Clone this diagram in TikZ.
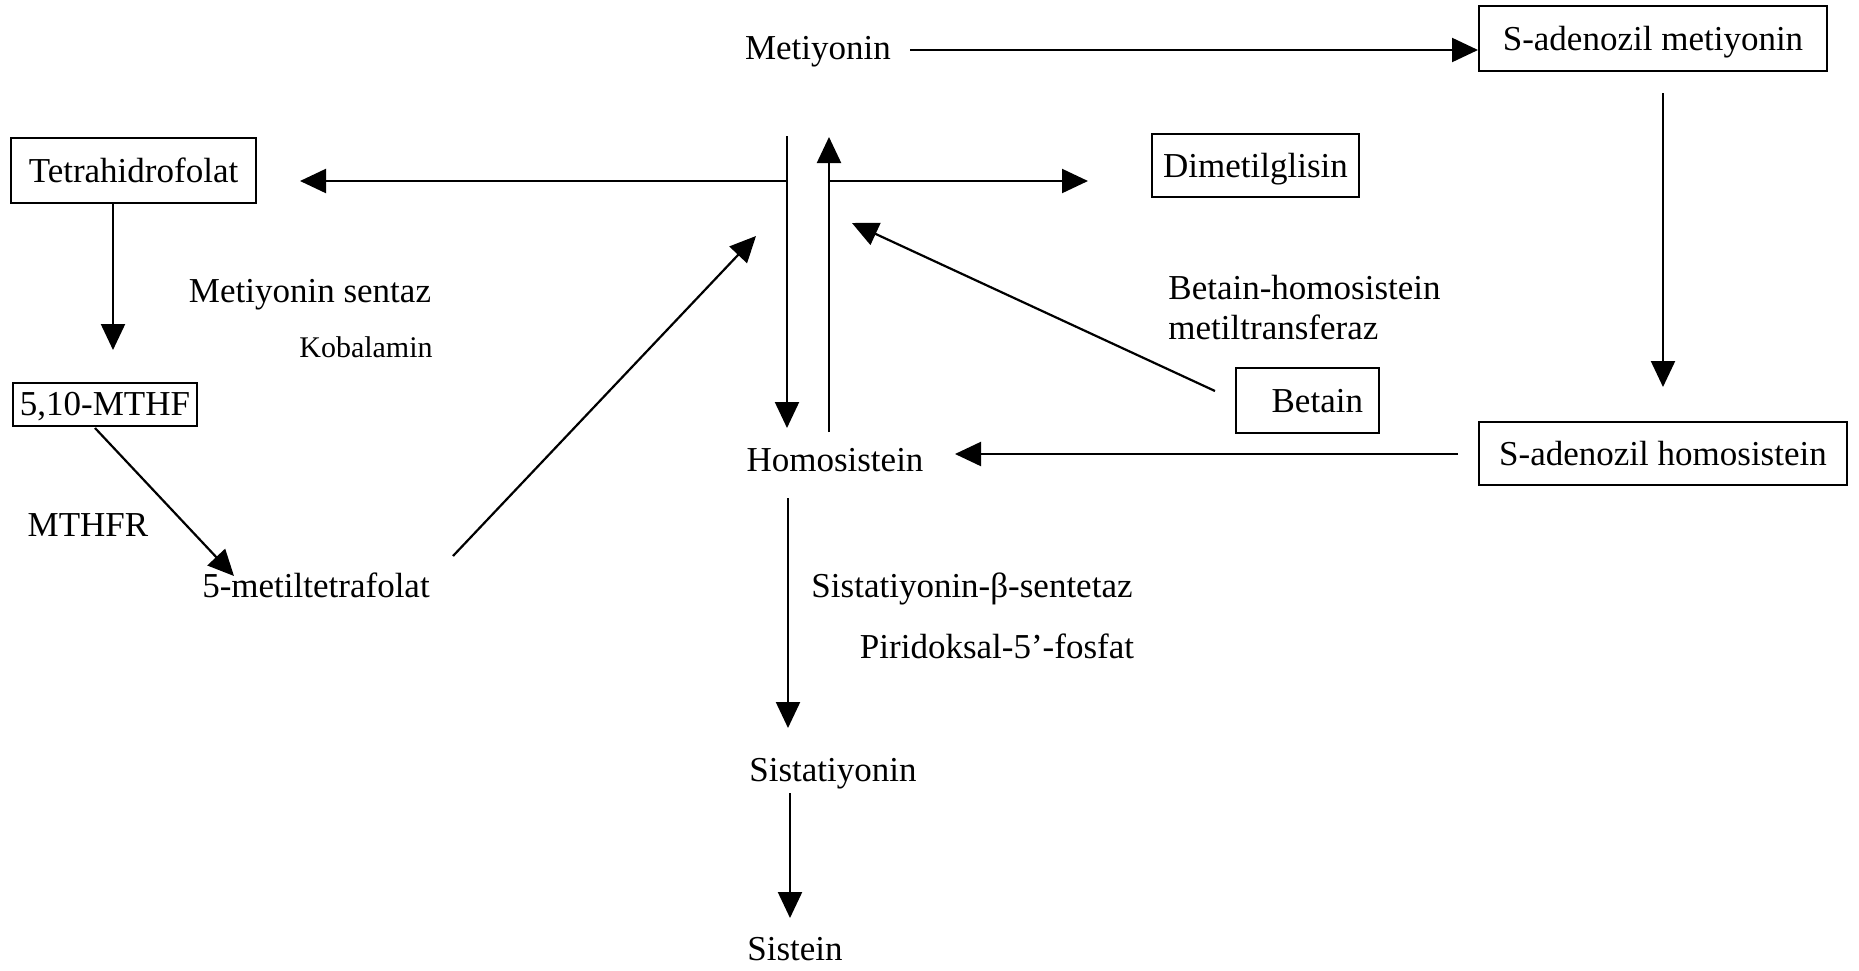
\documentclass[tikz,border=0pt]{standalone}
\usepackage{fontspec}
\setmainfont{Liberation Serif}
\usetikzlibrary{arrows.meta}
\begin{document}
\begin{tikzpicture}[x=0.5pt,y=-0.5pt,
  txt/.style={font=\fontsize{17.5}{20}\selectfont, inner sep=0pt},
  small/.style={font=\fontsize{15}{18}\selectfont, inner sep=0pt},
  box/.style={font=\fontsize{17.5}{21}\selectfont, draw, line width=1pt,
    inner xsep=0pt, inner ysep=0pt, text height=14.5pt, text depth=3pt,
    minimum height=32.5pt},
  arr/.style={line width=1.1pt, -{Triangle[length=13pt,width=12pt]}},
  ln/.style={line width=1.1pt}]
\path[use as bounding box] (0,0) rectangle (1859,970);

% boxed compounds
\node[box, minimum width=174pt] (sam) at (1653,38.5) {S-adenozil metiyonin};
\node[box, minimum width=184pt, minimum height=31.5pt] (sah) at (1663,453.5) {S-adenozil homosistein};
\node[box, minimum width=122.5pt] (thf) at (133.5,170.5) {Tetrahidrofolat};
\node[box, minimum width=92pt, minimum height=21.5pt, text height=12.5pt, text depth=1pt] (mthf) at (105,404) {5,10-MTHF};
\node[box, minimum width=103.5pt, minimum height=31.5pt] (dmg) at (1255.5,165.5) {Dimetilglisin};
\node[box, inner xsep=8pt, text width=55.5pt, align=right] (bet) at (1307.5,400.5) {Betain};

% plain compounds
\node[txt, anchor=base] (met) at (818,59) {Metiyonin};
\node[txt, anchor=base] (hcy) at (835,471) {Homosistein};
\node[txt, anchor=base] (cth) at (833,781) {Sistatiyonin};
\node[txt, anchor=base] (cys) at (795,960) {Sistein};
\node[txt, anchor=base] (mtf) at (316,597) {5-metiltetrafolat};

% enzyme / cofactor labels
\node[txt, anchor=base] (ms) at (310,302) {Metiyonin sentaz};
\node[small, anchor=base] (kob) at (366,357) {Kobalamin};
\node[txt, anchor=base] (mthfr) at (88,536) {MTHFR};
\node[txt, anchor=base west, align=left] (bhmt) at (1168,339) {Betain-homosistein\\metiltransferaz};
\node[txt, anchor=base] (cbs) at (972,597) {Sistatiyonin-β-sentetaz};
\node[txt, anchor=base] (plp) at (997,658) {Piridoksal-5’-fosfat};

% connector end points
\coordinate (a1s) at (910,50);
\coordinate (a2s) at (1663,93);  \coordinate (a2e) at (1663,387);
\coordinate (a3s) at (1458,454); \coordinate (a3e) at (955,454);
\coordinate (vL1) at (787,136);  \coordinate (vL2) at (787,428);
\coordinate (vR1) at (829,432);  \coordinate (vR2) at (829,137);
\coordinate (hL) at (787,181);   \coordinate (hLe) at (300,181);
\coordinate (hR) at (829,181);   \coordinate (hRe) at (1088,181);
\coordinate (a7s) at (113,204);  \coordinate (a7e) at (113,350);
\coordinate (a8s) at (95,428);   \coordinate (a8e) at (234,576);
\coordinate (a9s) at (453,556);  \coordinate (a9e) at (756,236);
\coordinate (a10s) at (1215,391); \coordinate (a10e) at (852,223);
\coordinate (a11s) at (788,498); \coordinate (a11e) at (788,728);
\coordinate (a12s) at (790,793); \coordinate (a12e) at (790,918);

% connectors
\draw[arr] (a1s) -- (a1s -| sam.west);
\draw[arr] (a2s) -- (a2e);
\draw[arr] (a3s) -- (a3e);
\draw[arr] (vL1) -- (vL2);
\draw[arr] (vR1) -- (vR2);
\draw[arr] (hL) -- (hLe);
\draw[arr] (hR) -- (hRe);
\draw[arr] (a7s) -- (a7e);
\draw[arr] (a8s) -- (a8e);
\draw[arr] (a9s) -- (a9e);
\draw[arr] (a10s) -- (a10e);
\draw[arr] (a11s) -- (a11e);
\draw[arr] (a12s) -- (a12e);
\end{tikzpicture}
\end{document}
